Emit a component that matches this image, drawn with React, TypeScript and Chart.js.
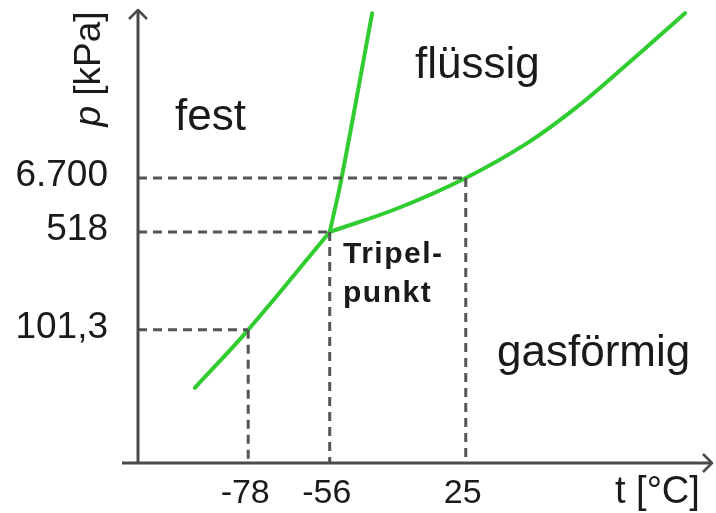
import React, { useEffect, useRef } from "react";
import { Chart, registerables } from "chart.js";

Chart.register(...registerables);

// Schematic phase diagram (CO2). Diagram units: x 0..100 along the t axis, y 0..100 along the p axis.
const sublimationX = [9.9, 19.2, 33.4];
const sublimationY = [16.6, 29.4, 51.0];

const meltingX = [33.4, 35.5, 40.8];
const meltingY = [51.0, 63.1, 99.3];

const vaporX = [33.4, 45.6, 57.1, 67.8, 76.5, 85.2, 95.3];
const vaporY = [51.0, 56.4, 62.9, 70.6, 78.6, 88.0, 99.3];

// Marked points: (-78 °C, 101,3 kPa), triple point (-56 °C, 518 kPa), (25 °C, 6.700 kPa)
const markX = [19.2, 33.4, 57.1];
const markY = [29.4, 51.0, 62.9];
const tLabels = ["-78", "-56", "25"];
const pLabels = ["101,3", "518", "6.700"];

const regionLabels = ["fest", "flüssig", "gasförmig"];
const tripleLabel = ["Tripel-", "punkt"];

const GREEN = "#30cc30";
const GREY = "#555555";
const AXIS = "#4a4a4a";

const toPts = (xs: number[], ys: number[]) => xs.map((x, i) => ({ x, y: ys[i] }));

export default function App() {
  const ref = useRef<HTMLCanvasElement | null>(null);

  useEffect(() => {
    document.body.style.margin = "0";
    const canvas = ref.current;
    if (!canvas) return;

    const dashDatasets: any[] = [];
    markX.forEach((x, i) => {
      const y = markY[i];
      const base = {
        borderColor: GREY,
        borderWidth: 3,
        borderDash: [9, 6],
        pointRadius: 0,
        fill: false,
        tension: 0,
      };
      dashDatasets.push({ ...base, data: [{ x: 0, y }, { x, y }] });
      dashDatasets.push({ ...base, data: [{ x, y }, { x, y: 0 }] });
    });

    const curve = (xs: number[], ys: number[]) => ({
      data: toPts(xs, ys),
      borderColor: GREEN,
      borderWidth: 4,
      pointRadius: 0,
      fill: false,
      tension: 0.4,
      borderCapStyle: "round",
    });

    const decor = {
      id: "decor",
      afterDatasetsDraw(chart: any) {
        const ctx = chart.ctx as CanvasRenderingContext2D;
        const xs = chart.scales.x;
        const ys = chart.scales.y;
        const x0 = xs.getPixelForValue(0);
        const y0 = ys.getPixelForValue(0);
        const xEnd = chart.chartArea.right;
        const yTop = chart.chartArea.top;
        ctx.save();
        // axes
        ctx.strokeStyle = AXIS;
        ctx.lineWidth = 3;
        ctx.lineCap = "butt";
        ctx.beginPath();
        ctx.moveTo(x0 - 16, y0);
        ctx.lineTo(xEnd, y0);
        ctx.moveTo(x0, y0);
        ctx.lineTo(x0, yTop);
        ctx.stroke();
        // arrow heads
        ctx.lineWidth = 2.5;
        ctx.lineJoin = "round";
        ctx.beginPath();
        ctx.moveTo(xEnd - 9, y0 - 9);
        ctx.lineTo(xEnd, y0);
        ctx.lineTo(xEnd - 9, y0 + 9);
        ctx.moveTo(x0 - 9, yTop + 9);
        ctx.lineTo(x0, yTop);
        ctx.lineTo(x0 + 9, yTop + 9);
        ctx.stroke();

        ctx.fillStyle = "#1a1a1a";
        // x tick labels
        ctx.font = '34px "Liberation Sans Narrow", "Arial Narrow", "Liberation Sans", Arial, sans-serif';
        ctx.textAlign = "center";
        ctx.textBaseline = "alphabetic";
        markX.forEach((x, i) => {
          ctx.fillText(tLabels[i], xs.getPixelForValue(x) - 3, y0 + 40);
        });
        // x axis title
        ctx.font = '38px "Liberation Sans", Arial, sans-serif';
        ctx.textAlign = "left";
        ctx.fillText("t [°C]", 615, y0 + 40);

        // y tick labels
        ctx.font = '37px "Liberation Sans", Arial, sans-serif';
        ctx.textAlign = "right";
        ctx.textBaseline = "middle";
        markY.forEach((y, i) => {
          ctx.fillText(pLabels[i], 108, ys.getPixelForValue(y) - 2);
        });

        // y axis title, rotated
        ctx.save();
        ctx.translate(100, 69);
        ctx.rotate(-Math.PI / 2);
        ctx.textBaseline = "alphabetic";
        ctx.font = 'italic 37px "Liberation Sans", Arial, sans-serif';
        const pW = ctx.measureText("p").width;
        ctx.font = '37px "Liberation Sans", Arial, sans-serif';
        const restW = ctx.measureText(" [kPa]").width;
        const start = -(pW + restW) / 2;
        ctx.textAlign = "left";
        ctx.font = 'italic 37px "Liberation Sans", Arial, sans-serif';
        ctx.fillText("p", start, 0);
        ctx.font = '37px "Liberation Sans", Arial, sans-serif';
        ctx.fillText(" [kPa]", start + pW, 0);
        ctx.restore();

        // region labels
        ctx.font = '44px "Liberation Sans", Arial, sans-serif';
        ctx.textAlign = "left";
        ctx.textBaseline = "alphabetic";
        ctx.fillText(regionLabels[0], 175, 130);
        ctx.fillText(regionLabels[1], 415, 78);
        ctx.fillText(regionLabels[2], 497, 366);

        // triple point label
        ctx.font = 'bold 30px "Liberation Sans", Arial, sans-serif';
        (ctx as any).letterSpacing = "1.5px";
        ctx.fillText(tripleLabel[0], 343, 263);
        ctx.fillText(tripleLabel[1], 343, 302);
        ctx.restore();
      },
    };

    const chart = new Chart(canvas, {
      type: "line",
      data: {
        datasets: [
          ...dashDatasets,
          curve(sublimationX, sublimationY),
          curve(meltingX, meltingY),
          curve(vaporX, vaporY),
        ],
      },
      options: {
        animation: false,
        responsive: false,
        events: [],
        layout: { padding: { left: 138, right: 4, top: 10, bottom: 50 } },
        plugins: { legend: { display: false }, tooltip: { enabled: false } },
        scales: {
          x: { type: "linear", min: 0, max: 100, display: false },
          y: { type: "linear", min: 0, max: 100, display: false },
        },
      },
      plugins: [decor],
    } as any);

    return () => chart.destroy();
  }, []);

  return <canvas ref={ref} width={716} height={513} style={{ display: "block" }} />;
}
